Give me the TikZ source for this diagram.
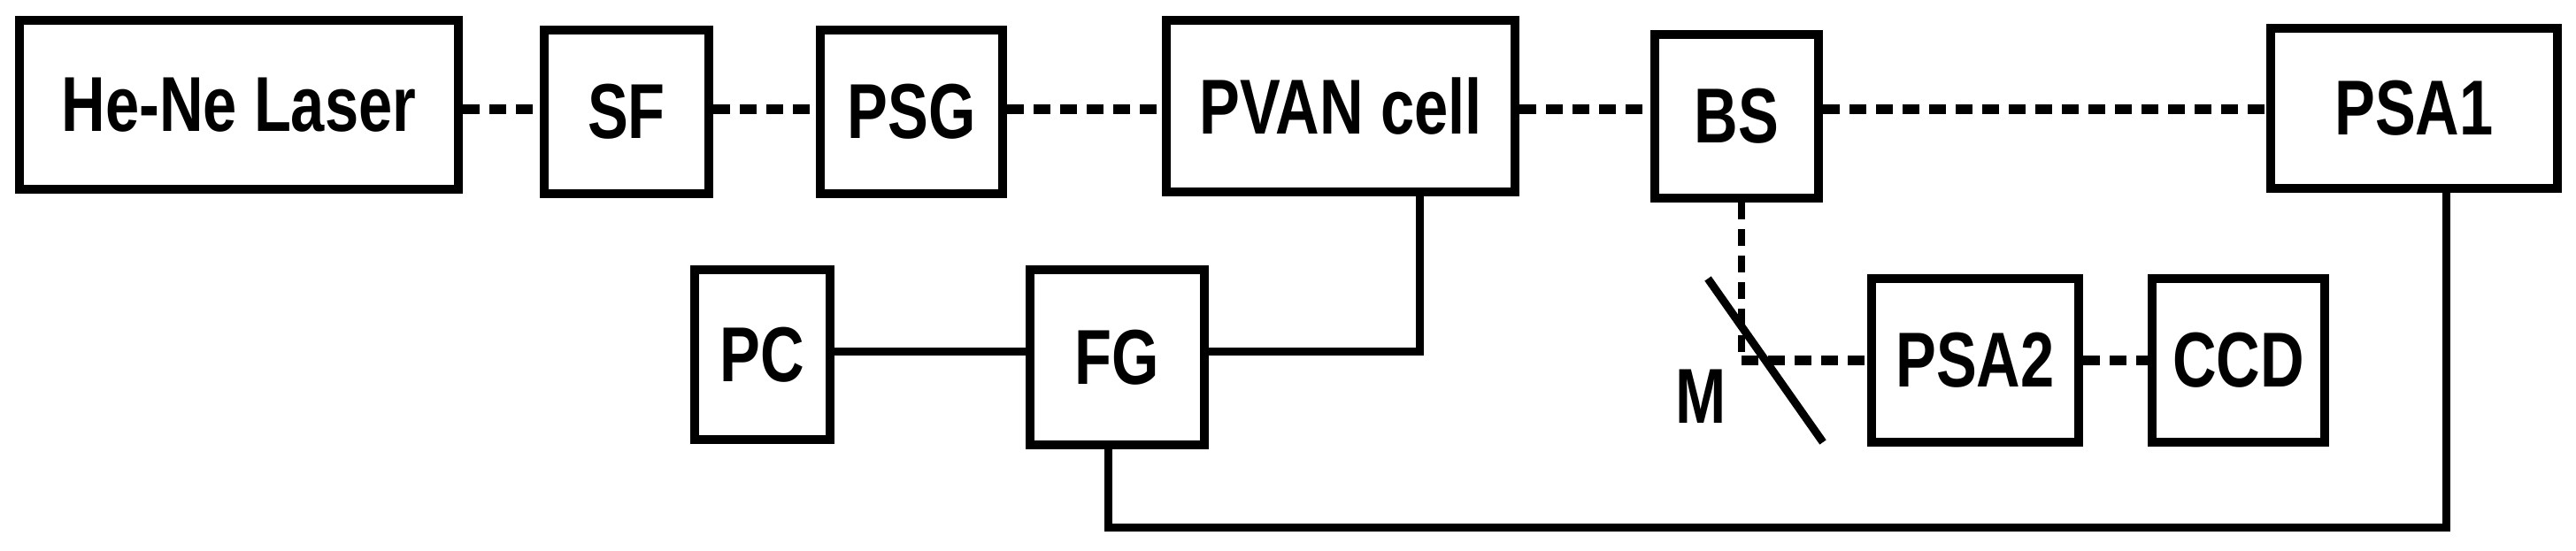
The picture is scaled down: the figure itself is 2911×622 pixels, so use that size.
\documentclass[tikz,border=0pt]{standalone}
\usepackage{fontspec}
\setmainfont{Liberation Sans}
\begin{document}
\begin{tikzpicture}[x=1pt,y=-1pt,
  box/.style={draw,line width=10pt,inner sep=0pt,font=\fontsize{88}{88}\bfseries\selectfont},
  dsh/.style={line width=11pt,dash pattern=on 19pt off 11pt},
  sol/.style={line width=9pt}]
\useasboundingbox (0,0) rectangle (2911,622);
\newcommand{\bx}[6]{\node[box,minimum width=#4-#2,minimum height=#5-#3] (#1) at ({(#2+#4)/2},{(#3+#5)/2}) {\scalebox{0.78}[1]{#6}};}
\bx{laser}{22}{23}{518}{214}{He-Ne Laser}
\bx{sf}{615}{34}{801}{219}{SF}
\bx{psg}{927}{34}{1133}{219}{PSG}
\bx{pvan}{1318}{23}{1712}{217}{PVAN cell}
\bx{bs}{1870}{39}{2055}{224}{BS}
\bx{psa1}{2566}{32}{2890}{213}{PSA1}
\bx{pc}{785}{305}{938}{497}{PC}
\bx{fg}{1164}{305}{1361}{503}{FG}
\bx{psa2}{2115}{315}{2349}{500}{PSA2}
\bx{ccd}{2432}{315}{2627}{500}{CCD}
\draw[dsh] (laser.east|-0,123) -- (sf.west|-0,123);
\draw[dsh] (sf.east|-0,123) -- (psg.west|-0,123);
\draw[dsh] (psg.east|-0,123) -- (pvan.west|-0,123);
\draw[dsh] (pvan.east|-0,123) -- (bs.west|-0,123);
\draw[dsh] (bs.east|-0,123) -- (psa1.west|-0,123);
\coordinate (mc) at (1968,407);
\draw[line width=8pt,dash pattern=on 19pt off 11pt] (bs.south-|mc) -- (mc);
\draw[dsh] (mc) -- (psa2.west|-mc);
\draw[dsh] (psa2.east|-mc) -- (ccd.west|-mc);
\draw[sol] (pc.east|-0,397) -- (fg.west|-0,397);
\draw[sol] (fg.east|-0,397) -| (1604,0|-pvan.south);
\draw[sol] (fg.south-|1252,0) |- (2764,596) -- (psa1.south-|2764,0);
\coordinate (m1) at (1930,315); \coordinate (m2) at (2060,500);
\draw[line width=9pt] (m1) -- (m2);
\node[font=\fontsize{88}{88}\bfseries\selectfont] (ml) at (1922,448) {\scalebox{0.78}[1]{M}};
\end{tikzpicture}
\end{document}
